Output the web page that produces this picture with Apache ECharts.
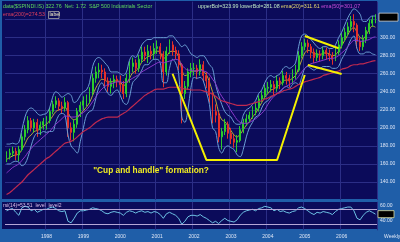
<!DOCTYPE html>
<html><head><meta charset="utf-8">
<script src="https://cdn.jsdelivr.net/npm/echarts@6/dist/echarts.min.js"></script>
<style>html,body{margin:0;padding:0;background:#1f5ea8;}#c{width:400px;height:242px;}</style>
</head><body><div id="c"></div>
<script>
// ---- categories (monthly, Dec 1996 .. Dec 2006) ----
const startMonth = '1996-12';
const years = [1997,1998,1999,2000,2001,2002,2003,2004,2005,2006];
const monthCodes = ['01','02','03','04','05','06','07','08','09','10','11','12'];
const categories = [startMonth];
years.forEach(y => monthCodes.forEach(m => categories.push(y + '-' + m)));
const yearTicks = ['1998','1999','2000','2001','2002','2003','2004','2005','2006'];
const priceTicks = [140,160,180,200,220,240,260,280,300];
const rsiLevels = [60,40];

// ---- price (OHLC) ----
const open = [166,
170,172,174,170,176,190,198,208,200,206,198,203,
207,208,218,226,230,224,222,228,200,195,204,218,
225,230,232,240,255,262,264,262,252,246,250,254,
252,248,238,255,268,272,266,276,284,280,285,282,
288,290,282,262,285,292,286,282,270,238,246,262,
266,266,262,270,258,252,236,218,214,190,196,204,
194,188,184,186,198,206,210,214,220,222,232,236,
244,245,248,244,252,250,258,255,252,260,264,280,
290,294,290,284,278,282,280,286,282,280,276,284,
292,300,306,312,318,314,296,290,298,308,316,320];
const close = [170,
172,174,170,176,190,198,208,200,206,198,203,207,
208,218,226,230,224,222,228,200,195,204,218,225,
230,232,240,255,262,264,262,252,246,250,254,252,
248,238,255,268,272,266,276,284,280,285,282,288,
290,282,262,285,292,286,282,270,238,246,262,266,
266,262,270,258,252,236,218,214,190,196,204,194,
188,184,186,198,206,210,214,220,222,232,236,244,
245,248,244,252,250,258,255,252,260,264,280,290,
294,290,284,278,282,280,286,282,280,276,284,292,
300,306,312,318,314,296,290,298,308,316,320,322.76];
const low = [162,
165,168,164,163,174,186,194,196,195,190,192,198,
198,205,215,222,219,216,218,190,186,185,200,212,
220,224,227,236,250,255,255,245,240,238,244,245,
240,232,234,250,262,260,262,272,274,272,276,276,
282,276,245,258,282,280,276,264,205,232,242,256,
258,254,258,252,244,228,205,206,184,176,192,188,
182,178,173,184,194,202,206,210,214,218,228,232,
238,240,236,240,243,247,248,245,249,254,262,277,
286,283,277,272,274,274,276,276,274,270,274,281,
288,296,302,308,306,288,285,286,294,304,312,316];
const high = [174,
177,179,178,180,194,203,213,211,210,210,207,211,
213,222,230,235,233,229,234,230,206,209,222,229,
235,237,245,260,268,272,270,266,256,255,259,258,
258,252,260,274,278,276,281,290,290,292,291,294,
297,294,285,290,298,296,290,286,272,252,266,272,
272,270,276,274,262,256,240,226,218,200,210,207,
200,192,192,202,210,215,218,224,228,236,241,248,
251,253,252,258,256,263,262,259,265,270,285,295,
299,298,293,288,287,286,290,289,287,284,289,297,
305,311,317,324,326,316,300,303,312,320,324,326];

// ---- indicators ----
const upperBol = [182,
182,183,182,184,198,212,220,222,220,216,214,215,
216,222,234,240,238,234,236,238,236,228,230,236,
240,242,250,268,276,278,276,272,268,262,262,262,
260,258,262,275,280,278,284,292,296,298,298,300,
300,300,300,300,302,302,298,294,290,292,288,282,
280,278,280,280,276,270,266,248,236,226,218,214,
212,206,204,204,214,220,222,226,230,238,242,250,
256,258,256,258,260,266,268,266,268,272,290,302,
304,302,298,294,290,288,290,290,288,288,292,300,
306,314,322,328,332,330,326,318,318,322,324,323.99];
const lowerBol = [160,
160,162,163,162,158,160,168,180,190,194,194,196,
195,196,196,206,214,216,214,192,180,176,172,185,
200,214,218,220,232,245,250,244,238,236,240,242,
236,228,226,234,250,254,258,264,270,270,274,276,
276,272,250,250,266,276,272,260,212,206,220,245,
256,255,256,252,240,226,200,196,178,172,178,180,
178,176,170,168,176,190,200,206,212,214,222,228,
230,234,236,238,240,244,246,244,248,250,248,256,
266,268,266,264,266,266,268,268,268,266,266,268,
276,282,290,298,302,288,282,282,284,284,282,281.08];
const ema20 = [165,
167,169,170,171,176,182,189,192,196,197,199,202,
204,208,213,218,220,221,223,217,211,209,211,215,
219,223,228,236,244,250,254,253,251,251,252,252,
251,247,249,255,261,263,267,273,276,279,280,283,
285,284,277,279,284,285,284,279,265,258,259,262,
263,263,265,263,259,251,240,231,217,209,207,202,
197,192,190,193,198,203,207,212,216,222,228,234,
238,242,243,246,248,252,253,253,255,258,266,275,
283,286,285,282,282,281,283,283,282,280,281,285,
291,297,303,309,311,306,300,299,303,309,313,311.61];
const ema50 = [150,
153,156,158,160,164,168,173,177,181,184,187,190,
193,196,200,204,207,210,213,213,212,212,213,215,
217,220,224,229,234,239,243,246,248,249,250,251,
251,250,251,253,255,257,259,262,264,266,268,270,
272,273,272,273,274,275,276,275,270,266,264,264,
263,263,264,263,262,259,254,249,241,235,230,225,
219,214,209,206,205,205,206,208,210,213,216,220,
226,231,235,238,241,244,246,248,250,253,257,262,
266,269,271,272,273,274,275,276,277,277,278,280,
283,286,290,294,297,297,296,296,297,298,300,301.07];
const ema200 = [126,
128,131,134,137,140,144,148,151,154,157,160,163,
166,168,171,174,177,180,183,184,185,187,190,193,
196,198,200,203,206,208,210,211,212,212,212,212,
214,216,218,221,224,227,230,233,236,238,240,242,
243,243,243,244,245,245,245,245,244,243,243,242,
242,242,242,241,240,239,237,235,232,230,229,228,
227,226,225,225,225,225,226,227,228,229,230,232,
233,235,236,238,239,241,242,243,244,246,248,249,
251,252,253,254,255,256,258,259,260,261,262,263,
265,266,267,269,270,270,271,271,272,273,274,274.53];
const rsi = [58,
60,61,56,52,62,64,63,58,60,56,58,60,
60,62,63,61,58,57,58,44,42,48,55,58,
58,59,60,62,61,60,58,55,54,56,57,56,
55,52,56,58,57,55,57,58,56,57,55,57,
56,53,48,54,56,54,52,48,40,44,50,52,
52,51,53,50,48,45,42,44,41,45,48,45,
44,43,46,52,56,58,59,60,58,61,62,64,
63,62,58,60,57,58,56,55,57,58,62,63,
61,58,55,53,56,55,57,56,55,53,57,60,
61,62,63,63,58,48,46,52,56,58,56,53.51];

// ---- annotations (data coordinates) ----
const cupLine = [['2001-06',260],['2002-05',164.4],['2004-04',164.4],['2005-01',258.6]];
const handleUpper = [['2005-01',301.9],['2005-12',288.2]];
const handleLower = [['2005-02',269.7],['2006-01',259.8]];
const noteText = '"Cup and handle" formation?';
const notePos = ['2000-11',152.5];

const GRID = '#2b2e86';
const FONT = 'Liberation Sans';
const isYearStart = v => v.slice(5) === '01' && yearTicks.includes(v.slice(0,4));
const ohlc = categories.map((c,i) => [open[i], close[i], low[i], high[i]]);

function line(data, color, width, z, smooth) {
  return {type:'line', data, xAxisIndex:0, yAxisIndex:0, symbol:'none', silent:true, z,
          smooth: smooth ? 0.35 : false, lineStyle:{color, width}};
}

const chart = echarts.init(document.getElementById('c'));
chart.setOption({
  backgroundColor:'#1f5ea8',
  animation:false,
  grid:[{left:5,right:23,top:1.6,height:198.4},{left:5,right:23,top:201.8,height:28.5}],
  xAxis:[
    {type:'category',gridIndex:0,data:categories,boundaryGap:true,
     axisLine:{show:false},axisTick:{show:false},axisLabel:{show:false},
     splitLine:{show:true,interval:(i,v)=>isYearStart(v),lineStyle:{color:GRID,width:1}}},
    {type:'category',gridIndex:1,data:categories,boundaryGap:true,
     axisLine:{show:false},axisTick:{show:false},
     axisLabel:{show:true,interval:(i,v)=>isYearStart(v),formatter:v=>v.slice(0,4),
                color:'#dde5f5',fontSize:5,margin:4,fontFamily:FONT},
     splitLine:{show:true,interval:(i,v)=>isYearStart(v),lineStyle:{color:GRID,width:1}}}
  ],
  yAxis:[
    {type:'value',gridIndex:0,position:'right',min:120,max:340,interval:20,
     axisLine:{show:false},axisTick:{show:false},
     axisLabel:{color:'#dde5f5',fontSize:5,margin:3,fontFamily:FONT,
                formatter:v=>priceTicks.includes(v)?v.toFixed(2):''},
     splitLine:{lineStyle:{color:GRID,width:1},showMinLine:false,showMaxLine:false}},
    {type:'value',gridIndex:1,min:32,max:70,show:false}
  ],
  series:[
    line(ema20,'#b8a83a',1,2,true),
    {type:'candlestick',data:ohlc,xAxisIndex:0,yAxisIndex:0,barMaxWidth:1.4,silent:true,z:3,
     itemStyle:{color:'#2ccc2c',color0:'#e4302a',borderColor:'#2ccc2c',borderColor0:'#e4302a',borderWidth:1}},
    line(upperBol,'#6a9ed4',1,4,true),
    line(lowerBol,'#6a9ed4',1,4,true),
    line(ema50,'#8a38cc',1,4,true),
    line(ema200,'#c02a50',1.2,4,true),
    line(cupLine,'#f4f000',2,10,false),
    line(handleUpper,'#f4f000',2,10,false),
    line(handleLower,'#f4f000',2,10,false),
    {type:'line',data:rsi,xAxisIndex:1,yAxisIndex:1,symbol:'none',silent:true,z:4,
     lineStyle:{color:'#6ec3e6',width:1},
     markLine:{silent:true,symbol:'none',animation:false,
       lineStyle:{color:'#b4a6d6',width:1,type:'solid'},
       label:{position:'end',distance:3,formatter:p=>Number(p.value).toFixed(2),
              color:'#dde5f5',fontSize:5,fontFamily:FONT,offset:[0,-4]},
       data:rsiLevels.map(v=>({yAxis:v}))}}
  ]
});

const lastIdx = categories.length - 1;
const pLast = chart.convertToPixel({gridIndex:0},[lastIdx, close[lastIdx]]);
const rLast = chart.convertToPixel({gridIndex:1},[lastIdx, rsi[lastIdx]]);
const noteP = chart.convertToPixel({gridIndex:0},[categories.indexOf(notePos[0]), notePos[1]]);

function txt(x,y,text,fill,size,extra) {
  return {type:'text',x,y,silent:true,z:50,
    style:Object.assign({text,fill,fontSize:size||5,fontFamily:FONT,align:'left',verticalAlign:'middle'},extra||{})};
}

chart.setOption({
  graphic:[
    {type:'rect',shape:{x:2,y:1,width:375,height:198},style:{fill:'#0b0b5a'},z:-100,silent:true},
    {type:'rect',shape:{x:2,y:202,width:375,height:27},style:{fill:'#0b0b5a'},z:-100,silent:true},
    txt(3,6.7,'data($SPINDI.IS) 322.76  Net: 1.72  S&P 500 Industrials Sector','#5edc5e',5.3),
    txt(3,15,'ema(200)=274.53','#e2405e',5.3),
    {type:'rect',shape:{x:48.5,y:11.5,width:10.5,height:7},style:{fill:'#0b0b5a',stroke:'#d8d8c0',lineWidth:0.6},z:49,silent:true},
    txt(49.5,15,'label','#f2ecc8',5),
    txt(198,6.7,'{a|upperBol=323.99 lowerBol=281.08} {b|ema(20)=311.61} {c|ema(50)=301.07}','#bfe8c4',5.3,
        {rich:{a:{fill:'#bfe8c4',fontSize:5.3,fontFamily:FONT},b:{fill:'#e6d86e',fontSize:5.3,fontFamily:FONT},c:{fill:'#cc4cd8',fontSize:5.3,fontFamily:FONT}}}),
    txt(3,206,'rsi(14)=53.51  level  level2','#d8bce6',5),
    {type:'rect',shape:{x:379,y:pLast[1]-4,width:19,height:8},style:{fill:'#000000',stroke:'#cfcfcf',lineWidth:0.8},z:60,silent:true},
    txt(388.5,pLast[1],'322.76','#44ff44',5.5,{align:'center'}),
    {type:'rect',shape:{x:378,y:rLast[1]-3.5,width:16,height:7},style:{fill:'#000000',stroke:'#e0e0a0',lineWidth:0.8},z:60,silent:true},
    txt(386,rLast[1],'53.51','#e8e8d8',5,{align:'center'}),
    txt(384,237,'Weekly','#dde5f5',5),
    txt(noteP[0],noteP[1],noteText,'#f2ee22',8.3,{align:'center',fontWeight:'bold'})
  ]
});
</script>
</body></html>
